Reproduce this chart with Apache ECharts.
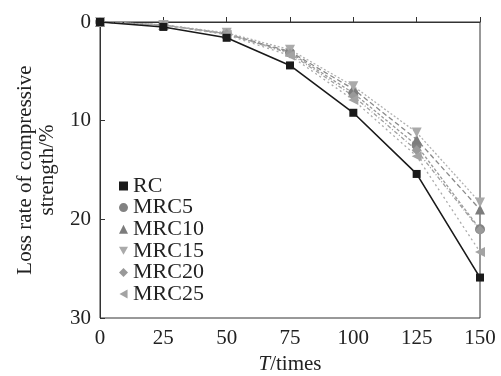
<!DOCTYPE html>
<html>
<head>
<meta charset="utf-8">
<script src="https://cdn.jsdelivr.net/npm/echarts@6/dist/echarts.min.js"></script>
<style>
  html, body { margin: 0; padding: 0; background: #fff; }
  #chart { width: 501px; height: 376px; }
</style>
</head>
<body>
<div id="chart"></div>
<script>
const cycles = [0, 25, 50, 75, 100, 125, 150]
const seriesNames = ['RC', 'MRC5', 'MRC10', 'MRC15', 'MRC20', 'MRC25']
const rc = [0, 0.5, 1.6, 4.4, 9.2, 15.4, 25.9]
const mrc5 = [0, 0.3, 1.2, 3.1, 7.2, 12.5, 21.0]
const mrc10 = [0, 0.3, 1.2, 3.0, 6.8, 11.9, 19.0]
const mrc15 = [0, 0.3, 1.1, 2.8, 6.5, 11.2, 18.3]
const mrc20 = [0, 0.3, 1.2, 3.2, 7.5, 13.0, 21.1]
const mrc25 = [0, 0.3, 1.3, 3.4, 7.9, 13.6, 23.3]

const font = '"Liberation Serif", "DejaVu Serif", serif'
const downTri = 'path://M0,0 L10,0 L5,9 Z'
const leftTri = 'path://M9,0 L9,10 L0,5 Z'

const chart = echarts.init(document.getElementById('chart'))

function mk(name, values, symbol, color, lineColor, lineType, width, size) {
  return {
    name,
    type: 'line',
    data: cycles.map((c, i) => [c, values[i]]),
    symbol,
    symbolSize: size,
    itemStyle: { color },
    lineStyle: { color: lineColor, type: lineType, width },
    z: name === 'RC' ? 3 : 2,
  }
}

const symbols = ['rect', 'circle', 'triangle', downTri, 'diamond', leftTri]

chart.setOption({
  animation: false,
  grid: {
    left: 100, right: 21, top: 22, bottom: 58,
    outerBoundsMode: 'none', containLabel: false,
    show: true, borderColor: '#333', borderWidth: 1,
  },
  legend: {
    orient: 'vertical',
    left: 119,
    top: 175,
    padding: 0,
    itemWidth: 9,
    itemHeight: 9,
    itemGap: -0.4,
    textStyle: { fontFamily: font, fontSize: 22, color: '#222', lineHeight: 20.5 },
    data: seriesNames.map((n, i) => ({ name: n, icon: symbols[i] })),
  },
  xAxis: {
    type: 'value',
    min: 0,
    max: 150,
    interval: 25,
    name: '{i|T}/times',
    nameLocation: 'middle',
    nameGap: 34,
    nameTextStyle: {
      fontFamily: font, fontSize: 21, color: '#222',
      rich: { i: { fontFamily: font, fontSize: 21, fontStyle: 'italic', color: '#222' } },
    },
    axisLine: { lineStyle: { color: '#333', width: 1 } },
    axisTick: { inside: true, length: 5, lineStyle: { color: '#333' } },
    axisLabel: { fontFamily: font, fontSize: 21, color: '#222', margin: 10 },
    splitLine: { show: false },
  },
  yAxis: {
    type: 'value',
    inverse: true,
    min: 0,
    max: 30,
    interval: 10,
    name: 'Loss rate of compressive\nstrength/%',
    nameLocation: 'middle',
    nameGap: 42,
    nameTextStyle: { fontFamily: font, fontSize: 21, color: '#222', lineHeight: 22 },
    axisLine: { lineStyle: { color: '#333', width: 1 } },
    axisTick: { inside: true, length: 5, lineStyle: { color: '#333' } },
    axisLabel: { fontFamily: font, fontSize: 21, color: '#222', margin: 9 },
    splitLine: { show: false },
  },
  series: [
    mk('RC', rc, 'rect', '#1a1a1a', '#1a1a1a', 'solid', 1.6, 8),
    mk('MRC5', mrc5, 'circle', '#828282', '#9a9a9a', [3, 2], 1.3, 10),
    mk('MRC10', mrc10, 'triangle', '#7c7c7c', '#8a8a8a', [5, 3], 1.3, 10),
    mk('MRC15', mrc15, downTri, '#aaaaaa', '#b0b0b0', [2, 2], 1.3, 10),
    mk('MRC20', mrc20, 'diamond', '#999999', '#a0a0a0', [4, 2, 1, 2], 1.3, 10),
    mk('MRC25', mrc25, leftTri, '#a3a3a3', '#aaaaaa', [2, 3], 1.3, 10),
  ],
})
</script>
</body>
</html>
